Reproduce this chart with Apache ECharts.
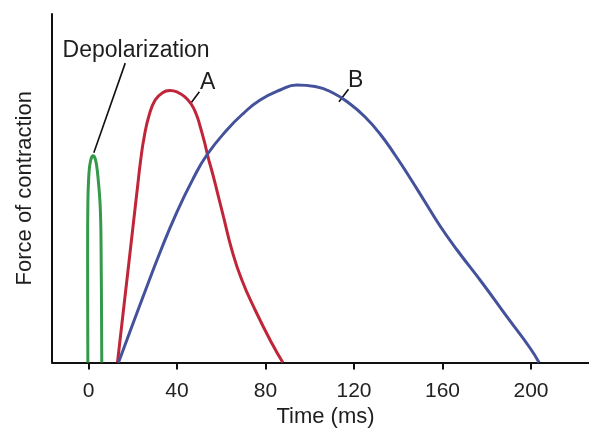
<!DOCTYPE html>
<html>
<head>
<meta charset="utf-8">
<script src="https://cdn.jsdelivr.net/npm/echarts@6/dist/echarts.min.js"></script>
<style>
html,body{margin:0;padding:0;background:#fff;}
#c{width:589px;height:428px;}
</style>
</head>
<body>
<div id="c"></div>
<script>
// Time (ms) vs force of contraction (relative units, axis top = 100)
const depolarization = [[-0.3,0],[-0.4,31],[-0.3,45],[0.2,54.3],[1.0,58.1],[2.1,59.3],[3.2,58.1],[4.1,54.3],[5.3,44.7],[5.7,31],[6.0,0]];
const curveA = [[13.1,0],[14.77,9.33],[16.58,19.37],[18.39,29.41],[20.19,39.45],[22.0,49.5],[23.58,58.11],[25.16,64.7],[27.42,71.02],[30.13,75.32],[33.3,77.33],[36.91,78.05],[40.52,77.47],[43.69,76.18],[46.4,74.17],[48.66,71.3],[50.47,67.72],[52.28,63.56],[54.09,58.82],[55.89,54.66],[57.7,50.21],[60.99,41.84],[64.79,32.28],[69.3,23.67],[75.31,15.06],[82.86,5.51],[87.83,0]];
const curveB = [[13.55,0],[18.84,9.04],[25.62,20.52],[32.39,31.71],[39.94,43.18],[47.44,52.94],[53.49,59.54],[62.53,66.71],[70.03,71.51],[77.57,75.32],[86.61,78.19],[94.15,79.63],[102.42,79.2],[110.55,77.33],[118.23,74.17],[125.01,70.44],[131.78,65.57],[138.56,59.54],[145.34,52.94],[152.11,46.05],[158.89,39.17],[166.57,32.28],[178.32,22.52],[189.16,13.06],[199.55,4.16],[203.62,0]];
const xTicks = [0, 40, 80, 120, 160, 200];
const labelTexts = [[21.5,89.4,'Depolarization'],[53.9,80.2,'A'],[120.7,80.9,'B']];
const leaders = [[[16.6,85.9],[2.4,60.2]],[[50.1,77.7],[46.5,74.6]],[[117.5,78.4],[113.2,74.8]]];

const FONT = '"Liberation Sans", Arial, Helvetica, sans-serif';
const chart = echarts.init(document.getElementById('c'), null, {renderer:'canvas'});
chart.setOption({
  animation: false,
  backgroundColor: '#fff',
  grid: {left: 52, right: 0, top: 14, bottom: 65.5, containLabel: false, outerBoundsMode: 'none'},
  xAxis: {
    type: 'value', min: -16.5, max: 226.2,
    name: 'Time (ms)', nameLocation: 'middle', nameGap: 41,
    nameTextStyle: {fontFamily: FONT, fontSize: 22, color: '#1e1e1e', padding: [0,0,0,10]},
    axisLine: {show: true, onZero: false, lineStyle: {color: '#111', width: 2}},
    axisTick: {show: true, customValues: xTicks, length: 7, lineStyle: {color: '#111', width: 2}},
    axisLabel: {show: true, customValues: xTicks, margin: 18, fontFamily: FONT, fontSize: 21, color: '#222'},
    splitLine: {show: false}
  },
  yAxis: {
    type: 'value', min: 0, max: 100,
    name: 'Force of contraction', nameLocation: 'middle', nameGap: 16, nameRotate: 90,
    nameTextStyle: {fontFamily: FONT, fontSize: 22, color: '#1e1e1e'},
    axisLine: {show: true, onZero: false, lineStyle: {color: '#111', width: 2}},
    axisTick: {show: false}, axisLabel: {show: false}, splitLine: {show: false}
  },
  series: [
    {type: 'line', data: depolarization, smooth: 0.4, symbol: 'none', lineStyle: {color: '#34994a', width: 3}},
    {type: 'line', data: curveA, smooth: 0.5, symbol: 'none', lineStyle: {color: '#c0263a', width: 3}},
    {type: 'line', data: curveB, smooth: 0.5, symbol: 'none', lineStyle: {color: '#44529c', width: 3}},
    {type: 'lines', coordinateSystem: 'cartesian2d', polyline: false,
     data: leaders.map(c => ({coords: c})),
     lineStyle: {color: '#111', width: 1.6, opacity: 1}},
    {type: 'scatter', symbolSize: 0, data: labelTexts, itemStyle: {opacity: 1},
     label: {show: true, position: 'inside', opacity: 1, formatter: p => p.value[2], fontFamily: FONT, fontSize: 23, color: '#1e1e1e'}}
  ]
});
</script>
</body>
</html>
